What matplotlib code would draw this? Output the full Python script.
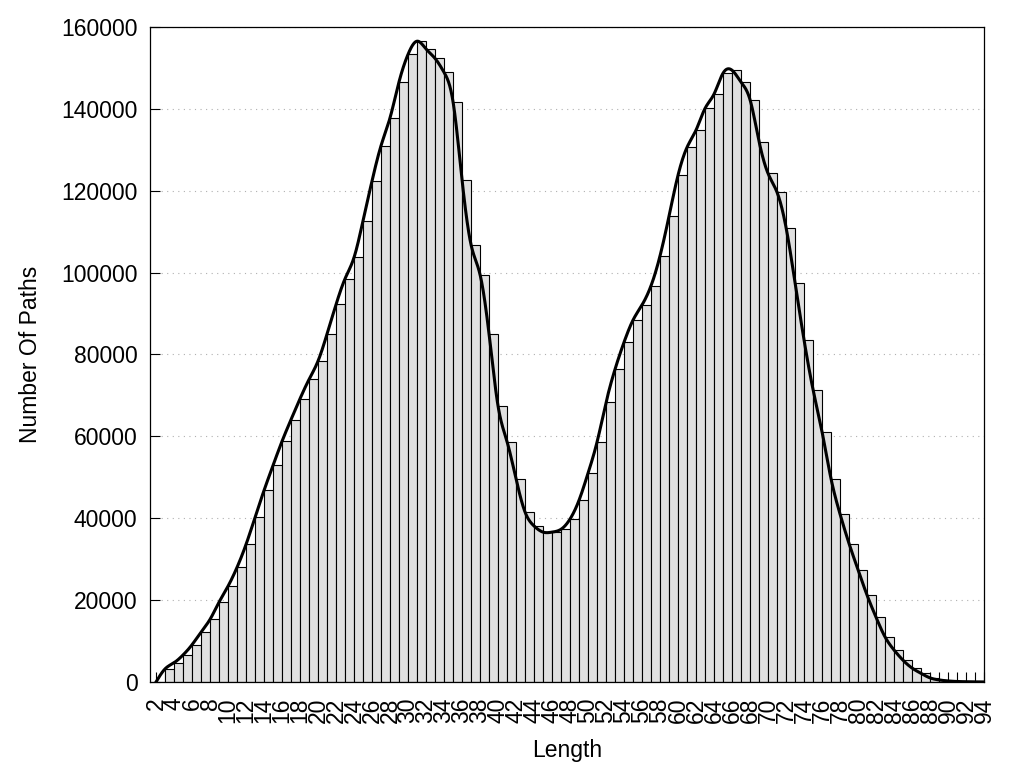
import numpy as np
import matplotlib.pyplot as plt
from matplotlib.ticker import FixedLocator

# data
lengths = list(range(2, 95))
paths = [
    0, 3200, 4700, 6600, 9100, 12200, 15300, 19500, 23400, 28000,
    33600, 40200, 46800, 52900, 58800, 64100, 69200, 73900, 78400, 85000,
    92200, 98500, 103700, 112700, 122400, 131000, 137800, 146600, 153300, 156500,
    154600, 152300, 148900, 141700, 122600, 106800, 99500, 85000, 67400, 58700,
    49600, 41500, 38100, 36600, 36600, 37300, 39800, 44400, 51000, 58600,
    68300, 76400, 83000, 88400, 92100, 96800, 104100, 113800, 123800, 130600,
    134800, 140100, 143600, 148700, 149400, 146500, 142200, 132000, 124200, 119600,
    111000, 97500, 83500, 71400, 61100, 49600, 41000, 33800, 27400, 21200,
    15800, 11000, 7800, 5300, 3400, 2100, 1000, 500, 250, 120,
    60, 30, 10,
]
y_ticks = [0, 20000, 40000, 60000, 80000, 100000, 120000, 140000, 160000]


def natural_spline(x, y, xs):
    # natural cubic spline, like gnuplot "smooth csplines"
    x = np.asarray(x, float)
    y = np.asarray(y, float)
    n = len(x)
    h = np.diff(x)
    A = np.zeros((n, n))
    b = np.zeros(n)
    A[0, 0] = 1
    A[-1, -1] = 1
    for i in range(1, n - 1):
        A[i, i - 1] = h[i - 1]
        A[i, i] = 2 * (h[i - 1] + h[i])
        A[i, i + 1] = h[i]
        b[i] = 6 * ((y[i + 1] - y[i]) / h[i] - (y[i] - y[i - 1]) / h[i - 1])
    M = np.linalg.solve(A, b)
    idx = np.clip(np.searchsorted(x, xs) - 1, 0, n - 2)
    x0, x1 = x[idx], x[idx + 1]
    hh = x1 - x0
    return (M[idx] * (x1 - xs) ** 3 / (6 * hh) + M[idx + 1] * (xs - x0) ** 3 / (6 * hh)
            + (y[idx] - M[idx] * hh ** 2 / 6) * (x1 - xs) / hh
            + (y[idx + 1] - M[idx + 1] * hh ** 2 / 6) * (xs - x0) / hh)


plt.rcParams['font.family'] = ['Liberation Sans', 'DejaVu Sans']
plt.rcParams['font.size'] = 16.5

fig = plt.figure(figsize=(10.24, 7.68), dpi=100)
ax = fig.add_axes([0.1465, 0.112, 0.8145, 0.853])

ax.bar(lengths, paths, width=1.0, align='edge', color='#e0e0e0',
       edgecolor='black', linewidth=0.8, zorder=2)

xs = np.linspace(lengths[0], lengths[-1], 2000)
ax.plot(xs, natural_spline(lengths, paths, xs), color='black', linewidth=2.2, zorder=3)

ax.set_xlim(1.33, 94)
ax.set_ylim(0, 160000)

ax.xaxis.set_major_locator(FixedLocator(lengths))
ax.set_xticklabels([str(v) if v % 2 == 0 else '' for v in lengths], rotation=90)
ax.set_yticks(y_ticks)
ax.set_yticklabels([str(v) for v in y_ticks])

ax.tick_params(axis='both', direction='in', length=7, width=0.8, color='black',
               top=False, right=False)
ax.tick_params(axis='x', pad=11)
ax.tick_params(axis='y', pad=9)

ax.yaxis.grid(True, linestyle=(0, (1, 4)), color='#b0b0b0', linewidth=0.8, zorder=0)
ax.set_axisbelow(True)

for s in ax.spines.values():
    s.set_linewidth(0.9)
    s.set_zorder(4)

ax.set_xlabel('Length', labelpad=12)
ax.set_ylabel('Number Of Paths', labelpad=14)

plt.savefig('out.png', dpi=100)
plt.close()
